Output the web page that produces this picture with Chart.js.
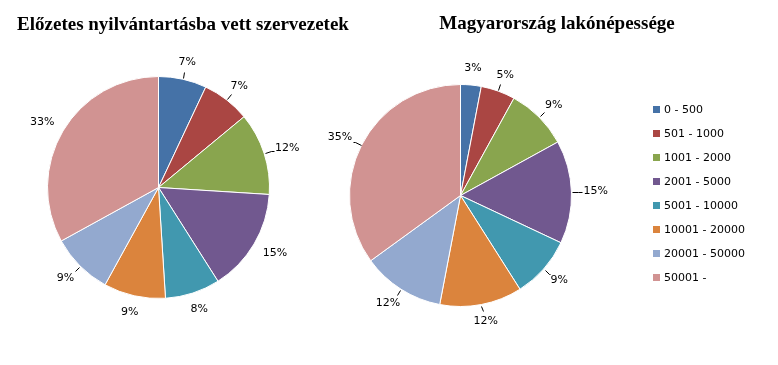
<!DOCTYPE html>
<html>
<head>
<meta charset="utf-8">
<script src="https://cdn.jsdelivr.net/npm/chart.js@4/dist/chart.umd.min.js"></script>
<style>
  body { margin: 0; background: #fff; }
  #wrap { position: relative; width: 778px; height: 365px; overflow: hidden; }
  canvas { position: absolute; top: 0; }
  #leftChart { left: 0; }
  #rightChart { left: 300px; }
</style>
</head>
<body>
<div id="wrap">
  <canvas id="leftChart" width="390" height="365"></canvas>
  <canvas id="rightChart" width="478" height="365"></canvas>
</div>
<script>
const categories = ['0 - 500', '501 - 1000', '1001 - 2000', '2001 - 5000', '5001 - 10000', '10001 - 20000', '20001 - 50000', '50001 -'];
const registeredShares = [7, 7, 12, 15, 8, 9, 9, 33];
const populationShares = [3, 5, 9, 15, 9, 12, 12, 35];
const leftTitle = 'Előzetes nyilvántartásba vett szervezetek';
const rightTitle = 'Magyarország lakónépessége';

const colors = ['#4572A7', '#AA4643', '#89A54E', '#71588F', '#4198AF', '#DB843D', '#93A9CF', '#D19392'];
const leftLeaders = [true, true, true, false, false, false, true, false];
const rightLeaders = [false, true, true, true, true, true, true, true];

const labelFont = '11px "DejaVu Sans", Verdana, sans-serif';

// labels outside the pie, title and (optional) legend
const pieDecor = {
    id: 'pieDecor',
    afterDraw(chart, args, opts) {
        const ctx = chart.ctx;
        const meta = chart.getDatasetMeta(0);
        const values = chart.data.datasets[0].data;
        ctx.save();

        // title
        ctx.font = 'bold 19px "Liberation Serif", "Times New Roman", serif';
        ctx.fillStyle = '#000';
        ctx.textAlign = 'center';
        ctx.textBaseline = 'alphabetic';
        ctx.fillText(opts.title, opts.titleX, opts.titleY);

        // percent labels
        ctx.font = labelFont;
        ctx.textBaseline = 'middle';
        ctx.strokeStyle = '#000';
        ctx.lineWidth = 1;
        meta.data.forEach((arc, i) => {
            const mid = (arc.startAngle + arc.endAngle) / 2;
            const r = arc.outerRadius;
            const cos = Math.cos(mid), sin = Math.sin(mid);
            const text = values[i] + '%';
            const w = ctx.measureText(text).width;
            const ax = arc.x + cos * (r + 10);
            const ay = arc.y + sin * (r + 10);
            const lx = ax + cos * (w / 2 + 2);
            const ly = ay + sin * 7;
            if (opts.leaders[i]) {
                const x1 = arc.x + cos * (r + 1), y1 = arc.y + sin * (r + 1);
                const x2 = arc.x + cos * (r + 7), y2 = arc.y + sin * (r + 7);
                const side = cos >= 0 ? 1 : -1;
                const x3 = lx - side * (w / 2 + 1);
                ctx.beginPath();
                ctx.moveTo(Math.round(x1) + 0.5, Math.round(y1) + 0.5);
                ctx.lineTo(Math.round(x2) + 0.5, Math.round(y2) + 0.5);
                if ((x3 - x2) * side > 0) ctx.lineTo(Math.round(x3) + 0.5, Math.round(y2) + 0.5);
                ctx.stroke();
            }
            ctx.fillStyle = '#000';
            ctx.textAlign = 'center';
            ctx.fillText(text, lx, ly);
        });

        // legend
        if (opts.legendX !== undefined) {
            ctx.textAlign = 'left';
            chart.data.labels.forEach((lab, i) => {
                const y = opts.legendY + i * 24;
                ctx.fillStyle = colors[i];
                ctx.fillRect(opts.legendX, y - 4, 7, 7);
                ctx.fillStyle = '#000';
                ctx.fillText(lab, opts.legendX + 11, y);
            });
        }
        ctx.restore();
    }
};

function makePie(id, values, padding, decor) {
    return new Chart(document.getElementById(id), {
        type: 'pie',
        data: {
            labels: categories,
            datasets: [{
                data: values,
                backgroundColor: colors,
                borderColor: '#ffffff',
                borderWidth: 1,
                hoverOffset: 0
            }]
        },
        options: {
            responsive: false,
            animation: false,
            layout: { padding: padding },
            plugins: {
                legend: { display: false },
                title: { display: false },
                tooltip: { enabled: false },
                pieDecor: decor
            }
        },
        plugins: [pieDecor]
    });
}

var leftPie = makePie('leftChart', registeredShares,
    { left: 47, right: 120, top: 76, bottom: 66 },
    { title: leftTitle, titleX: 183, titleY: 30, leaders: leftLeaders });

var rightPie = makePie('rightChart', populationShares,
    { left: 49, right: 206, top: 84, bottom: 58 },
    { title: rightTitle, titleX: 257, titleY: 29, leaders: rightLeaders, legendX: 353, legendY: 110 });
</script>
</body>
</html>
